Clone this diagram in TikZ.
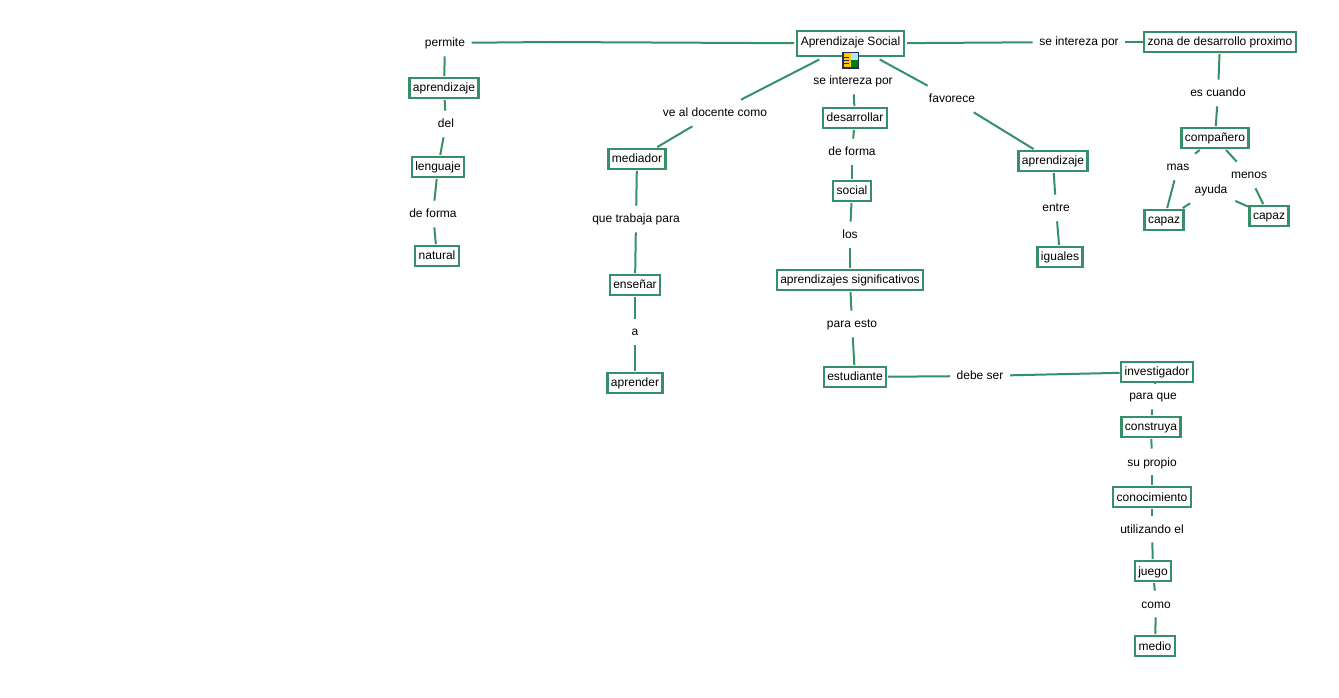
\documentclass[tikz,border=0pt]{standalone}
\usepackage{fontspec}
\setmainfont{Liberation Sans}
\usetikzlibrary{arrows.meta,positioning,calc}
\definecolor{mapgreen}{HTML}{35906A}
\definecolor{iconblue}{HTML}{1F2F5F}
\begin{document}
\begin{tikzpicture}[
    x=0.75pt, y=-0.75pt,
    concept/.style={draw=mapgreen, line width=1.6pt, fill=white, inner xsep=2.6pt, inner ysep=0pt, minimum height=15.5pt, outer sep=1.2pt, text height=7.5pt, text depth=1.5pt, align=center, font=\fontsize{9}{11}\selectfont},
    lbl/.style={inner sep=0pt, outer xsep=5pt, outer ysep=5.5pt, text height=7.5pt, text depth=1.5pt, align=center, font=\fontsize{9}{11}\selectfont},
    arr/.style={draw=mapgreen, line width=1.5pt}
]
\useasboundingbox (0,0) rectangle (1339,698);
\node[concept, minimum height=19pt, text depth=4.5pt, outer sep=2.5pt] (soc) at (850.5,43.5) {Aprendizaje Social};
\node[draw=iconblue, line width=1pt, fill=yellow!60!orange, minimum size=11.5pt, inner sep=0pt,
    path picture={\fill[cyan!30!white] (path picture bounding box.north) rectangle (path picture bounding box.east);
    \fill[green!50!black] (path picture bounding box.center) rectangle (path picture bounding box.south east);
    \draw[iconblue, line width=0.5pt] ($(path picture bounding box.west)+(1pt,-2pt)$) -- ++(3.5pt,0pt) ($(path picture bounding box.west)+(1pt,0pt)$) -- ++(3.5pt,0pt) ($(path picture bounding box.west)+(1pt,2pt)$) -- ++(3.5pt,0pt);}] (icon) at (850.5,60.5) {};
\node[lbl] (permite) at (445,43) {permite};
\node[concept] (apr1) at (444,88) {aprendizaje};
\node[lbl] (del) at (446,124) {del};
\node[concept] (leng) at (438,167) {lenguaje};
\node[lbl] (forma1) at (433,214) {de forma};
\node[concept] (nat) at (437,256) {natural};
\node[lbl] (docente) at (715,113) {ve al docente como};
\node[concept] (med) at (637,159) {mediador};
\node[lbl] (trabaja) at (636,219) {que trabaja para};
\node[concept] (ens) at (635,285) {enseñar};
\node[lbl] (a) at (635,332) {a};
\node[concept] (apre) at (635,383) {aprender};
\node[lbl] (inter1) at (853,81) {se intereza por};
\node[concept] (des) at (855,118) {desarrollar};
\node[lbl] (forma2) at (852,152) {de forma};
\node[concept] (social) at (852,191) {social};
\node[lbl] (los) at (850,235) {los};
\node[concept] (signif) at (850,280) {aprendizajes significativos};
\node[lbl] (esto) at (852,324) {para esto};
\node[concept] (est) at (855,377) {estudiante};
\node[lbl] (debe) at (980,376) {debe ser};
\node[concept] (inv) at (1157,372) {investigador};
\node[lbl] (paraque) at (1153,396) {para que};
\node[concept] (cons) at (1151,427) {construya};
\node[lbl] (propio) at (1152,462) {su propio};
\node[concept] (con) at (1152,497) {conocimiento};
\node[lbl] (util) at (1152,529) {utilizando el};
\node[concept] (jue) at (1153,571) {juego};
\node[lbl] (como) at (1156,604) {como};
\node[concept] (med2) at (1155,646) {medio};
\node[lbl] (fav) at (952,99) {favorece};
\node[concept] (apr2) at (1053,161) {aprendizaje};
\node[lbl] (entre) at (1056,208) {entre};
\node[concept] (igu) at (1060,257) {iguales};
\node[lbl] (inter2) at (1079,42) {se intereza por};
\node[concept] (zona) at (1220,42) {zona de desarrollo proximo};
\node[lbl] (cuando) at (1218,93) {es cuando};
\node[concept] (comp) at (1215,138) {compañero};
\node[lbl] (mas) at (1178,167) {mas};
\node[lbl] (menos) at (1249,175) {menos};
\node[lbl, outer xsep=6pt] (ayuda) at (1211,190) {ayuda};
\node[concept] (cap1) at (1164,220) {capaz};
\node[concept] (cap2) at (1269,216) {capaz};
\coordinate (bend) at (550,42);

\draw[arr] (soc) -- (bend) -- (permite);
\draw[arr] (permite) -- (apr1);
\draw[arr] (apr1) -- (del);
\draw[arr] (del) -- (leng);
\draw[arr] (leng) -- (forma1);
\draw[arr] (forma1) -- (nat);
\draw[arr] (soc) -- (docente);
\draw[arr] (docente) -- (med);
\draw[arr] (med) -- (trabaja);
\draw[arr] (trabaja) -- (ens);
\draw[arr] (ens) -- (a);
\draw[arr] (a) -- (apre);
\draw[arr] (inter1) -- (des);
\draw[arr] (des) -- (forma2);
\draw[arr] (forma2) -- (social);
\draw[arr] (social) -- (los);
\draw[arr] (los) -- (signif);
\draw[arr] (signif) -- (esto);
\draw[arr] (esto) -- (est);
\draw[arr] (est) -- (debe);
\draw[arr] (debe) -- (inv);
\draw[arr] (inv) -- (paraque);
\draw[arr] (paraque) -- (cons);
\draw[arr] (cons) -- (propio);
\draw[arr] (propio) -- (con);
\draw[arr] (con) -- (util);
\draw[arr] (util) -- (jue);
\draw[arr] (jue) -- (como);
\draw[arr] (como) -- (med2);
\draw[arr] (soc) -- (fav);
\draw[arr] (fav) -- (apr2);
\draw[arr] (apr2) -- (entre);
\draw[arr] (entre) -- (igu);
\draw[arr] (soc) -- (inter2);
\draw[arr] (inter2) -- (zona);
\draw[arr] (zona) -- (cuando);
\draw[arr] (cuando) -- (comp);
\draw[arr] (comp) -- (mas);
\draw[arr] (mas) -- (cap1);
\draw[arr] (comp) -- (menos);
\draw[arr] (menos) -- (cap2);
\draw[arr] (ayuda) -- (cap1);
\draw[arr] (ayuda) -- (cap2);
\end{tikzpicture}
\end{document}
